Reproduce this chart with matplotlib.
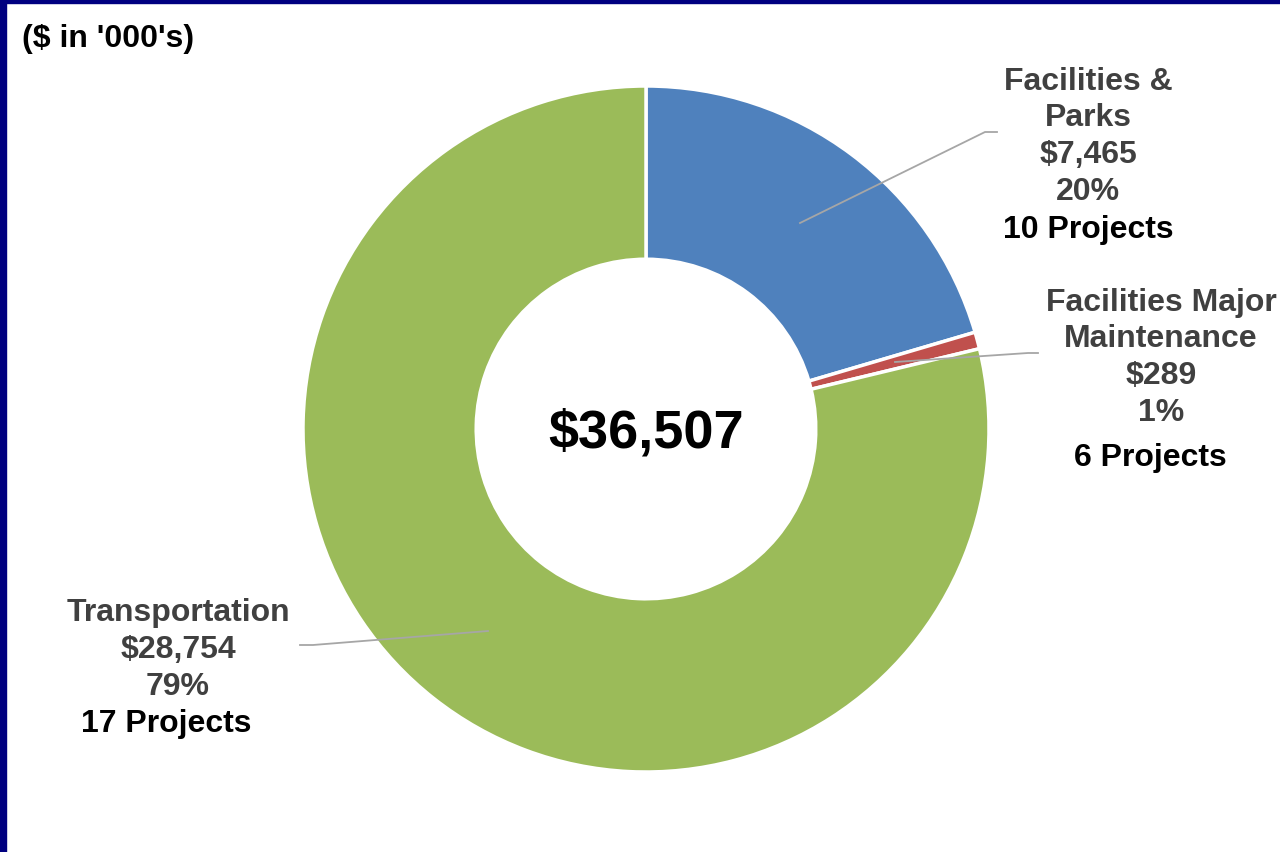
import matplotlib.pyplot as plt
from matplotlib.patches import Rectangle

plt.rcParams['font.family'] = ['Liberation Sans', 'DejaVu Sans']

categories = ["Facilities &\nParks", "Facilities Major\nMaintenance", "Transportation"]
amounts = [7465, 289, 28754]
percents = ["20%", "1%", "79%"]
projects = [10, 6, 17]
colors = ["#4F81BD", "#C0504D", "#9BBB59"]
total_label = "$36,507"
units_label = "($ in '000's)"

W, H = 1280, 853
fig = plt.figure(figsize=(W / 100, H / 100), dpi=100)

# donut centre (646, 430) px, radius 343 px
cx, cy, r = 646, 430, 343
ax = fig.add_axes([(cx - r) / W, (H - cy - r) / H, 2 * r / W, 2 * r / H])
ax.pie(amounts, colors=colors, startangle=90, counterclock=False, radius=1,
       wedgeprops=dict(width=0.505, edgecolor="white", linewidth=2.5))
ax.set_xlim(-1, 1)
ax.set_ylim(-1, 1)
ax.set_aspect("equal")
ax.axis("off")


def px(x, y):
    # pixel position -> data coords of the donut axes
    return (x - cx) / r, (cy - y) / r


ax.text(0, px(0, 434)[1], total_label, ha="center", va="center",
        fontsize=39, fontweight="bold", color="black")

gray = "#404040"
fs = 23
dy = 2  # small nudge so text sits like the original

# label blocks: (centre x, line y's), gray lines then black project line
blocks = [
    (1088, [80, 116, 153, 190], 228, 1088),
    (1161, [301, 337, 374, 411], 456, 1150),
    (178, [611, 648, 685], 722, 166),
]
for i, (xc, ys, yp, xp) in enumerate(blocks):
    lines = categories[i].split("\n") + [f"${amounts[i]:,}", percents[i]]
    for line, y in zip(lines, ys):
        ax.text(*px(xc, y + dy), line, ha="center", va="center", fontsize=fs,
                fontweight="bold", color=gray, clip_on=False)
    ax.text(*px(xp, yp + dy), f"{projects[i]} Projects", ha="center", va="center",
            fontsize=fs, fontweight="bold", color="black", clip_on=False)

# leader lines
leaders = [
    [(800, 224), (985, 133), (997, 133)],
    [(895, 363), (1028, 354), (1038, 354)],
    [(488, 632), (313, 646), (300, 646)],
]
for pts in leaders:
    xs, ys = zip(*[px(*p) for p in pts])
    ax.plot(xs, ys, color="#A6A6A6", linewidth=1.3, clip_on=False)

fig.text(22 / W, 1 - 39 / H, units_label, ha="left", va="center",
         fontsize=23, fontweight="bold", color="black")

# navy frame on left and top
fig.patches.append(Rectangle((0, 0), 6 / W, 1, transform=fig.transFigure,
                             color="#000080", zorder=10))
fig.patches.append(Rectangle((0, 1 - 4 / H), 1, 4 / H, transform=fig.transFigure,
                             color="#000080", zorder=10))

fig.savefig("out.png", dpi=100, facecolor="white")
